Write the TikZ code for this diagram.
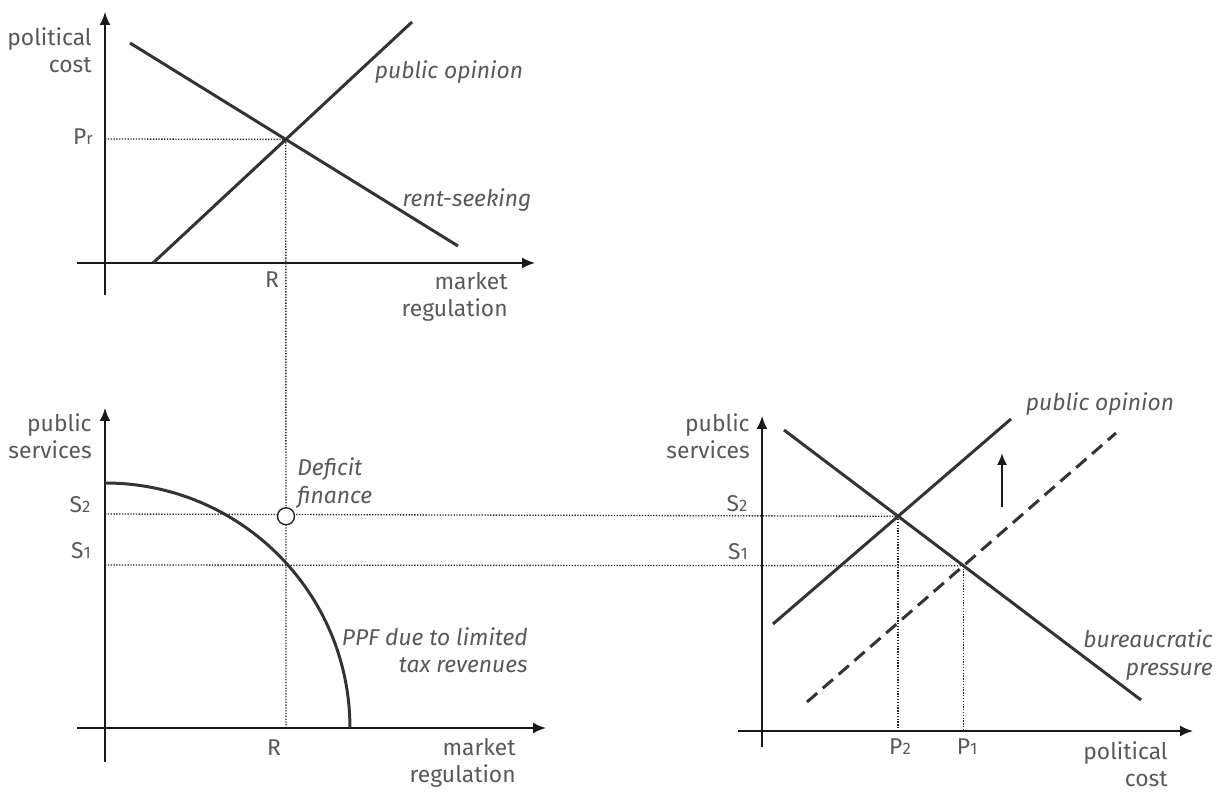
\documentclass[tikz,border=0pt]{standalone}
\usepackage{fontspec}
\setmainfont{Fira Sans}
\usepackage{tikz}
\usetikzlibrary{arrows.meta, positioning}

\newcommand{\subidx}[1]{{\fontsize{9.5}{10}\selectfont #1}}

\begin{document}
\begin{tikzpicture}[
    x=0.02cm, y=-0.02cm,
    axis/.style={-{Latex[length=0.26cm, width=0.22cm]}, line width=1.1pt, black!90},
    curve/.style={line width=1.7pt, black!80},
    shifted/.style={curve, dash pattern=on 0.27cm off 0.15cm},
    guide/.style={line width=0.75pt, black!85, dash pattern=on 0.75pt off 0.85pt},
    moveup/.style={-{Latex[length=0.24cm, width=0.2cm]}, line width=1.1pt, black!90},
    lbl/.style={font=\fontsize{13}{15.5}\selectfont, text=black!65, inner sep=0pt},
    axislbl/.style={lbl, align=right, anchor=east},
    curvelbl/.style={lbl, font=\fontsize{13}{15.5}\selectfont\itshape}
]
\useasboundingbox (0,0) rectangle (1225,793);

% === Top: market regulation ===
\coordinate (tYb) at (105,295);
\coordinate (tYt) at (105,12);
\coordinate (tXl) at (77,263);
\coordinate (tXr) at (535,263);
\draw[axis] (tYb) -- (tYt);
\draw[axis] (tXl) -- (tXr);

\coordinate (rsA) at (130,43);
\coordinate (rsB) at (458,246);
\coordinate (poA) at (153,263);
\coordinate (poB) at (412,22);
\draw[curve] (rsA) -- (rsB);
\draw[curve] (poA) -- (poB);
\coordinate (eqTop) at (intersection of rsA--rsB and poA--poB);
\coordinate (prAxis) at (105,139);

\node[axislbl] (tYlbl) at (92,50) {political\\cost};
\node[axislbl] (tXlbl) at (508,297) {market\\regulation};
\node[lbl] (prlbl) at (83,137) {P\subidx{r}};
\node[lbl] (rTop) at (272,280) {R};
\node[curvelbl] (poTop) at (449,72) {public opinion};
\node[curvelbl] (rsTop) at (467,200) {rent-seeking};

% === Bottom left: budget constraint ===
\coordinate (lYb) at (105,762);
\coordinate (lYt) at (105,408);
\coordinate (lXl) at (77,728);
\coordinate (lXr) at (546,728);
\coordinate (ppfTop) at (105,483);
\coordinate (rAxis) at (286,728);
\coordinate (sTwoAxis) at (105,514);
\coordinate (sOneAxis) at (105,565);

% === Right: public services market ===
\coordinate (rYb) at (762,747);
\coordinate (rYt) at (762,416);
\coordinate (rXl) at (738,731);
\coordinate (rXr) at (1193,731);
\coordinate (bpA) at (784,430);
\coordinate (bpB) at (1141,700);
\coordinate (opA) at (773,624);
\coordinate (opB) at (1011,419);
\coordinate (dsA) at (807,702);
\coordinate (dsB) at (1116,433);
\coordinate (eqTwo) at (intersection of bpA--bpB and opA--opB);
\coordinate (eqOne) at (intersection of bpA--bpB and dsA--dsB);
\coordinate (pTwoAxis) at (eqTwo |- rXl);
\coordinate (pOneAxis) at (eqOne |- rXl);
\coordinate (defPt) at (rAxis |- eqTwo);
\coordinate (upA) at (1002,507);
\coordinate (upB) at (1002,453);

% Dotted guides
\draw[guide] (prAxis) -- (eqTop);
\draw[guide] (eqTop) -- (rAxis);
\draw[guide] (sTwoAxis) -- (eqTwo);
\draw[guide] (sOneAxis) -- (eqOne);
\draw[guide] (eqTwo) -- (pTwoAxis);
\draw[guide] (eqOne) -- (pOneAxis);

% Axes and curves
\draw[axis] (lYb) -- (lYt);
\draw[axis] (lXl) -- (lXr);
\draw[curve] (ppfTop) arc[start angle=90, end angle=0, radius=4.9cm];
\node[circle, draw=black!85, line width=0.8pt, fill=white, minimum size=0.34cm, inner sep=0pt] (deficit) at (defPt) {};

\draw[axis] (rYb) -- (rYt);
\draw[axis] (rXl) -- (rXr);
\draw[curve] (bpA) -- (bpB);
\draw[curve] (opA) -- (opB);
\draw[shifted] (dsA) -- (dsB);
\draw[moveup] (upA) -- (upB);

% Labels
\node[axislbl] (lYlbl) at (92,436) {public\\services};
\node[lbl] (sTwoL) at (80,505) {S\subidx{2}};
\node[lbl] (sOneL) at (81,551) {S\subidx{1}};
\node[curvelbl, align=left, anchor=west] (defLbl) at (297,483) {Deficit\\finance};
\node[curvelbl, align=right, anchor=east] (ppfLbl) at (528,650) {PPF due to limited\\tax revenues};
\node[lbl] (rBot) at (274,748) {R};
\node[axislbl] (lXlbl) at (516,763) {market\\regulation};

\node[axislbl] (rYlbl) at (750,436) {public\\services};
\node[lbl] (sTwoR) at (737,504) {S\subidx{2}};
\node[lbl] (sOneR) at (738,552) {S\subidx{1}};
\node[lbl] (pTwoL) at (900,747) {P\subidx{2}};
\node[lbl] (pOneL) at (967,747) {P\subidx{1}};
\node[axislbl] (rXlbl) at (1168,764) {political\\cost};
\node[curvelbl] (poRight) at (1100,404) {public opinion};
\node[curvelbl, align=right, anchor=east] (bpLbl) at (1213,655) {bureaucratic\\pressure};

\end{tikzpicture}
\end{document}
